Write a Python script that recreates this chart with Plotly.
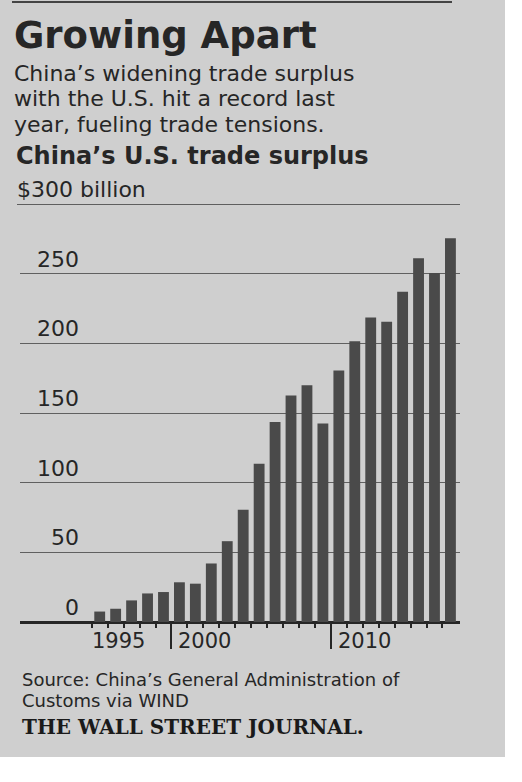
import plotly.graph_objects as go

# China's U.S. trade surplus, $ billion
years = list(range(1995, 2018))
surplus = [7.5, 9.5, 15.5, 20.5, 21.5, 28.5, 27.5, 42, 58, 80.5, 113.5, 143.5, 162.5,
           170, 142.5, 180.5, 201.5, 218.5, 215.5, 237, 261, 250.5, 275.5]
y_ticks = [0, 50, 100, 150, 200, 250]
year_labels = [1995, 2000, 2010]
long_ticks = [1999.5, 2009.5]

W, H = 522, 782
ml, mr, mt, mb = 20, 62, 204, 160
pw, ph = W - ml - mr, H - mt - mb

ink = "#262626"
paper_grey = "#cfcfcf"


def px(x):
    return (x - ml) / pw


def py(y):
    return (H - mb - y) / ph


fig = go.Figure()
fig.add_trace(go.Bar(x=years, y=surplus, width=0.68,
                     marker=dict(color="#4a4a4a", line=dict(width=0)),
                     hoverinfo="skip"))

fig.update_layout(
    width=W, height=H,
    margin=dict(l=ml, r=mr, t=mt, b=mb, pad=0),
    paper_bgcolor="white",
    plot_bgcolor="rgba(0,0,0,0)",
    showlegend=False,
    font=dict(family="DejaVu Sans", color=ink),
    xaxis=dict(range=[1990, 2017.6], tickvals=[y + 0.5 for y in range(1994, 2017)],
               ticks="outside", ticklen=5, tickwidth=1.5, tickcolor=ink,
               showticklabels=False, showgrid=False, zeroline=False, showline=False),
    xaxis2=dict(range=[1990, 2017.6], overlaying="x", anchor="y", side="bottom",
                tickvals=long_ticks, ticks="outside", ticklen=26, tickwidth=1.5,
                tickcolor=ink, showticklabels=False, showgrid=False,
                zeroline=False, showline=False),
    yaxis=dict(range=[0, 300], tickvals=y_ticks, showticklabels=False,
               showgrid=True, gridcolor="#606060", gridwidth=1,
               zeroline=True, zerolinecolor=ink, zerolinewidth=2.5, ticks=""),
)
# dummy trace so the second x axis is drawn
fig.add_trace(go.Scatter(x=[1990], y=[0], xaxis="x2", mode="markers",
                         marker=dict(opacity=0), hoverinfo="skip"))

# newsprint background
fig.add_shape(type="rect", xref="paper", yref="paper", layer="below",
              x0=px(0), x1=px(505), y0=py(757), y1=py(0),
              fillcolor=paper_grey, line=dict(width=0))
fig.add_shape(type="line", xref="paper", yref="paper",
              x0=px(12), x1=px(452), y0=py(2), y1=py(2),
              line=dict(color="#444", width=2))
# top rule at $300 billion
fig.add_shape(type="line", xref="paper", yref="y", x0=px(17), x1=1, y0=300, y1=300,
              line=dict(color="#3a3a3a", width=1.5))

ann = []
for v in y_ticks:
    ann.append(dict(x=px(81), y=v, xref="paper", yref="y", text=str(v),
                    xanchor="right", yanchor="bottom", yshift=0, showarrow=False,
                    font=dict(size=22, color=ink)))
ann.append(dict(x=px(15), y=300, xref="paper", yref="y", text="$300 billion",
                xanchor="left", yanchor="bottom", yshift=0, showarrow=False,
                font=dict(size=22, color=ink)))
for yr in year_labels:
    ann.append(dict(x=yr - 0.5, y=0, xref="x", yref="y", text=str(yr),
                    xanchor="left", yanchor="top", yshift=-5,
                    xshift=-2 if yr == 1995 else 5, showarrow=False,
                    font=dict(size=21, color=ink)))

ann.append(dict(x=px(12), y=py(35), xref="paper", yref="paper",
                text="<b>Growing Apart</b>", xanchor="left", yanchor="middle",
                showarrow=False, font=dict(size=37, color=ink)))
for i, line in enumerate(["China\u2019s widening trade surplus",
                          "with the U.S. hit a record last",
                          "year, fueling trade tensions."]):
    ann.append(dict(x=px(12), y=py(73 + 26 * i), xref="paper", yref="paper",
                    text=line, xanchor="left", yanchor="middle", showarrow=False,
                    font=dict(size=22, color=ink)))
ann.append(dict(x=px(14), y=py(156), xref="paper", yref="paper",
                text="<b>China\u2019s U.S. trade surplus</b>", xanchor="left",
                yanchor="middle", showarrow=False, font=dict(size=24, color=ink)))
for i, line in enumerate(["Source: China\u2019s General Administration of",
                          "Customs via WIND"]):
    ann.append(dict(x=px(20), y=py(679 + 21 * i), xref="paper", yref="paper",
                    text=line, xanchor="left", yanchor="middle", showarrow=False,
                    font=dict(size=18, color=ink)))
ann.append(dict(x=px(20), y=py(727), xref="paper", yref="paper",
                text="<b>THE WALL STREET JOURNAL.</b>", xanchor="left",
                yanchor="middle", showarrow=False,
                font=dict(family="DejaVu Serif", size=20, color="#1a1a1a")))

fig.update_layout(annotations=ann)
fig.write_html("out.html", config={"displayModeBar": False},
               post_script="document.body.style.margin = '0';"
                           "document.body.style.overflow = 'hidden';")
